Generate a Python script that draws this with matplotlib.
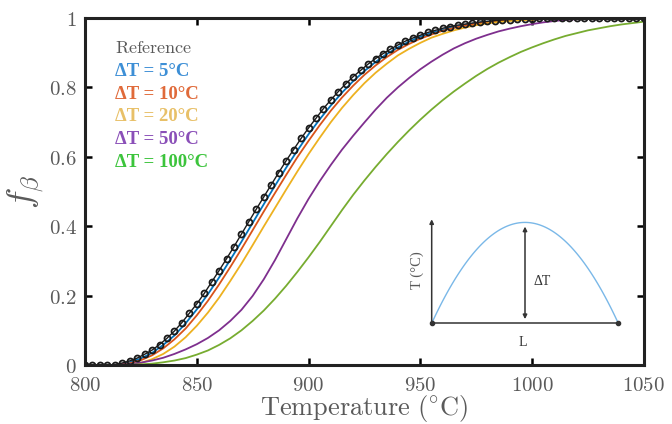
import matplotlib.pyplot as plt
from matplotlib.ticker import FuncFormatter
import numpy as np

plt.rcParams['mathtext.fontset'] = 'cm'

# Reference curve (circles), sampled every 10/3 degC
ref_temps = np.linspace(800, 1050, 76)
ref_f = [0, 0, 0, 0, 0.001, 0.006, 0.012, 0.020, 0.031, 0.043,
         0.059, 0.077, 0.098, 0.122, 0.149, 0.176, 0.206, 0.239, 0.272, 0.306,
         0.341, 0.377, 0.413, 0.449, 0.484, 0.519, 0.554, 0.588, 0.620, 0.652,
         0.682, 0.710, 0.738, 0.763, 0.787, 0.809, 0.830, 0.848, 0.866, 0.882,
         0.896, 0.909, 0.921, 0.932, 0.941, 0.949, 0.957, 0.963, 0.969, 0.974,
         0.978, 0.981, 0.984, 0.987, 0.989, 0.991, 0.993, 0.994, 0.995, 0.996,
         0.997, 0.998, 0.998, 0.998, 0.999, 0.999, 0.999, 1.0, 1.0, 1.0,
         1.0, 1.0, 1.0, 1.0, 1.0, 1.0]

# Curves for each peak temperature difference, every 5 degC
temps = np.arange(800, 1051, 5)
f_dt5 = [0, 0, 0, .001, .008, .019, .035, .058, .085, .120,
         .160, .204, .252, .303, .355, .409, .463, .516, .568, .617,
         .664, .707, .747, .784, .817, .846, .872, .895, .914, .931,
         .945, .956, .965, .973, .979, .984, .988, .991, .993, .995,
         .996, .997, .998, .999, .999, .999, 1, 1, 1, 1, 1]
f_dt10 = [0, 0, 0, .001, .005, .014, .028, .048, .074, .105,
          .143, .185, .232, .282, .334, .388, .442, .495, .547, .598,
          .645, .690, .732, .770, .804, .835, .862, .886, .907, .924,
          .939, .951, .962, .970, .977, .982, .987, .990, .992, .994,
          .996, .997, .998, .998, .999, .999, .999, 1, 1, 1, 1]
f_dt20 = [0, 0, 0, 0, .001, .006, .017, .032, .053, .080,
          .113, .151, .194, .242, .292, .345, .399, .452, .505, .557,
          .607, .654, .699, .740, .777, .811, .841, .867, .891, .910,
          .927, .942, .953, .963, .971, .978, .983, .987, .990, .992,
          .994, .996, .997, .998, .998, .999, .999, .999, 1, 1, 1]
f_dt50 = [0, 0, 0, .001, .003, .007, .013, .021, .032, .045,
          .060, .078, .100, .127, .159, .199, .247, .302, .362, .422,
          .478, .529, .576, .620, .660, .698, .735, .769, .799, .826,
          .851, .873, .893, .911, .926, .939, .950, .960, .968, .975,
          .981, .986, .990, .993, .995, .997, .998, .999, .999, 1, 1]
f_dt100 = [0, 0, 0, 0, .001, .002, .004, .008, .013, .020,
           .030, .042, .058, .077, .100, .127, .157, .191, .228, .268,
           .310, .354, .400, .446, .490, .531, .570, .607, .642, .675,
           .706, .735, .762, .787, .810, .832, .852, .870, .886, .901,
           .914, .926, .937, .947, .955, .963, .969, .975, .980, .984, .988]

series = [f_dt5, f_dt10, f_dt20, f_dt50, f_dt100]
labels = ['ΔT = 5°C', 'ΔT = 10°C', 'ΔT = 20°C', 'ΔT = 50°C', 'ΔT = 100°C']
line_colors = ['#0072BD', '#D95319', '#EDB120', '#7E2F8E', '#77AC30']
text_colors = ['#3d8fd6', '#e06a3a', '#e8c068', '#8a4fb8', '#3cc43c']

xticks = [800, 850, 900, 950, 1000, 1050]
yticks = [0, 0.2, 0.4, 0.6, 0.8, 1]

grey = '#5a5a5a'

fig = plt.figure(figsize=(6.72, 4.24), dpi=100)
ax = fig.add_axes([0.1265, 0.139, 0.8315, 0.8197])

for f, c in zip(series, line_colors):
    ax.plot(temps, f, color=c, lw=1.3)
ax.plot(ref_temps, ref_f, '-o', color='#1a1a1a', lw=1.0, ms=4.3,
        mfc='none', mew=1.3)

ax.set_xlim(800, 1050)
ax.set_ylim(0, 1)
ax.set_xticks(xticks)
ax.set_yticks(yticks)
fmt = FuncFormatter(lambda v, p: f'${v:g}$')
ax.xaxis.set_major_formatter(fmt)
ax.yaxis.set_major_formatter(fmt)
ax.tick_params(direction='in', length=5, width=1.8, top=True, right=True,
               labelsize=15, labelcolor=grey)
ax.tick_params(axis='x', pad=7)
ax.tick_params(axis='y', pad=6)
for sp in ax.spines.values():
    sp.set_linewidth(2.2)
    sp.set_color('#222222')

ax.set_xlabel(r'$\mathrm{Temperature\ (^{\circ}C)}$', fontsize=19,
              color=grey, labelpad=-1)
ax.set_ylabel(r'$f_\beta$', fontsize=26, color=grey, labelpad=2)

# legend as coloured text
ax.text(0.0537, 0.912, r'$\mathrm{Reference}$', transform=ax.transAxes,
        fontsize=13, color=grey, va='center')
ys = [0.844, 0.779, 0.715, 0.650, 0.584]
for lab, c, y in zip(labels, text_colors, ys):
    ax.text(0.0537, y, lab, transform=ax.transAxes, fontsize=13.5,
            color=c, va='center', family='Liberation Serif', weight='bold')

# inset sketch of the parabolic temperature profile
iax = fig.add_axes([0.6424, 0.2375, 0.2777, 0.2453])
iax.set_xlim(0, 1)
iax.set_ylim(0, 1)
iax.axis('off')
dark = '#333333'
px = np.linspace(0, 1, 100)
iax.plot(px, 0.97 * (1 - (2 * px - 1) ** 2), color='#7ab8e8', lw=1.0,
         clip_on=False)
iax.plot([0, 1], [0, 0], color=dark, lw=1.1, clip_on=False)
iax.plot([0, 1], [0, 0], 'o', color=dark, ms=3, clip_on=False)
iax.annotate('', xy=(0, 1), xytext=(0, 0),
             arrowprops=dict(arrowstyle='-|>', lw=1.1, color=dark,
                             mutation_scale=6, shrinkA=0, shrinkB=0))
iax.annotate('', xy=(0.5, 0.93), xytext=(0.5, 0.04),
             arrowprops=dict(arrowstyle='<|-|>', lw=1.1, color=dark,
                             mutation_scale=6, shrinkA=0, shrinkB=0))
iax.text(0.59, 0.40, 'ΔT', fontsize=10, color=dark, ha='center',
         va='center', family='Liberation Serif')
iax.text(-0.08, 0.51, 'T (°C)', fontsize=10.5, color=grey, ha='center',
         va='center', rotation=90, family='Liberation Serif')
iax.text(0.49, -0.18, 'L', fontsize=10, color=dark, ha='center',
         va='center', family='Liberation Serif')

fig.savefig('out.png', dpi=100)
